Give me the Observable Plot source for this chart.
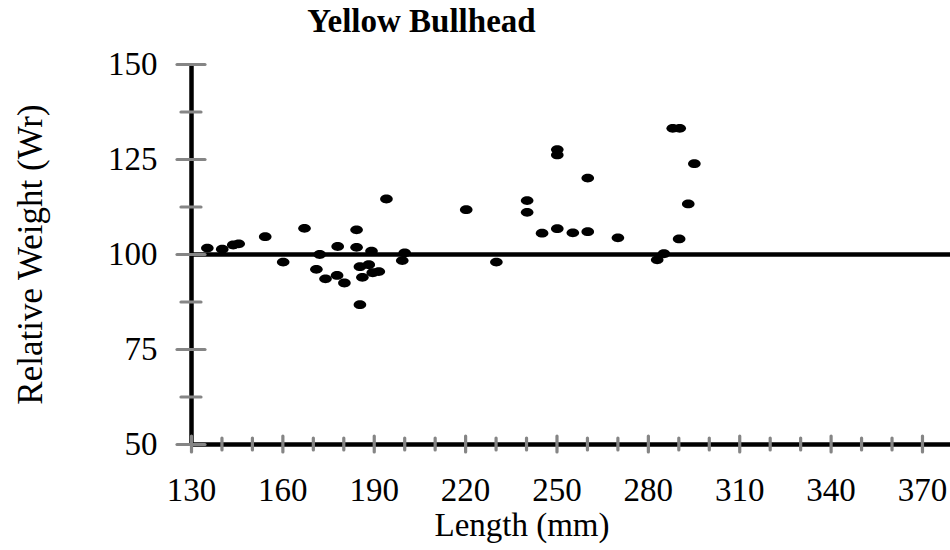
<!DOCTYPE html>
<html>
<head>
<meta charset="utf-8">
<script src="https://cdn.jsdelivr.net/npm/d3@7"></script>
<script src="https://cdn.jsdelivr.net/npm/@observablehq/plot@0.6"></script>
<style>
  html, body { margin: 0; padding: 0; background: #fff; }
  #title { width: 843px; height: 42px; line-height: 42px; text-align: center;
           font-family: "Liberation Serif", "Times New Roman", serif; font-weight: bold; font-size: 33px; color: #000; }
</style>
</head>
<body>
<div id="title">Yellow Bullhead</div>
<div id="chart"></div>
<script>
// Data
const lengths = [135.2,140.1,143.7,145.5,154.2,160.1,167.1,172.1,171.0,178.0,174.0,177.8,180.2,184.2,184.2,189.1,185.3,188.2,186.1,189.5,191.5,185.3,194.0,200.0,199.2,220.2,230.1,240.2,240.2,245.1,250.1,255.2,250.1,250.1,260.1,260.1,270.0,282.9,285.1,288.0,290.3,290.1,293.1,295.1];
const weights = [101.7,101.4,102.5,102.8,104.7,98.0,106.9,100.0,96.1,102.1,93.6,94.5,92.5,106.5,101.9,100.9,96.8,97.3,94.0,95.2,95.5,86.8,114.6,100.4,98.4,111.8,98.0,114.2,111.1,105.6,106.8,105.7,127.6,126.2,120.1,106.0,104.4,98.6,100.2,133.2,133.2,104.1,113.3,123.9];
const xMajorTicks = [130,160,190,220,250,280,310,340,370];
const xMinorTicks = [140,150,170,180,200,210,230,240,260,270,290,300,320,330,350,360];
const yMajorTicks = [50,75,100,125,150];
const yMinorTicks = [62.5,87.5,112.5,137.5];
const xDomain = [130, 379.2];
const yDomain = [50, 150];
const referenceLine = [100];
const xLabel = "Length (mm)";
const yLabel = "Relative Weight (Wr)";

const fish = lengths.map((x, i) => ({length: x, wr: weights[i]}));

const ellipse = {
  draw(ctx) {
    const rx = 6.3, ry = 4.4, k = 0.5523;
    ctx.moveTo(rx, 0);
    ctx.bezierCurveTo(rx, ry * k, rx * k, ry, 0, ry);
    ctx.bezierCurveTo(-rx * k, ry, -rx, ry * k, -rx, 0);
    ctx.bezierCurveTo(-rx, -ry * k, -rx * k, -ry, 0, -ry);
    ctx.bezierCurveTo(rx * k, -ry, rx, -ry * k, rx, 0);
    ctx.closePath();
  }
};

const grey = "#858585";
const chart = Plot.plot({
  width: 950,
  height: 508,
  marginLeft: 191,
  marginRight: 0,
  marginTop: 22,
  marginBottom: 106,
  style: {fontFamily: "'Liberation Serif', 'Times New Roman', serif", fontSize: "33px", color: "#000", background: "#fff", overflow: "visible"},
  x: {domain: xDomain, ticks: xMajorTicks, tickSize: 0, tickPadding: 33, label: null, tickFormat: d => String(d)},
  y: {domain: yDomain, ticks: yMajorTicks, tickSize: 0, tickPadding: 34, label: null, tickFormat: d => String(d)},
  marks: [
    Plot.ruleY(referenceLine, {stroke: "#000", strokeWidth: 4.5}),
    Plot.ruleY([yDomain[0]], {stroke: "#000", strokeWidth: 4.5}),
    Plot.ruleX([xDomain[0]], {y1: yDomain[0], y2: yDomain[1], stroke: "#000", strokeWidth: 4.5}),
    Plot.ruleX(xMinorTicks, {x: d => d, y1: yDomain[0], y2: yDomain[0], insetTop: -6, insetBottom: -6, stroke: grey, strokeWidth: 3.2, strokeLinecap: "round"}),
    Plot.ruleX(xMajorTicks, {x: d => d, y1: yDomain[0], y2: yDomain[0], insetTop: -8, insetBottom: -8, stroke: grey, strokeWidth: 3.2, strokeLinecap: "round"}),
    Plot.ruleY(yMinorTicks, {y: d => d, x1: xDomain[0], x2: xDomain[0], insetLeft: -10, insetRight: -10, stroke: grey, strokeWidth: 3.2, strokeLinecap: "round"}),
    Plot.ruleY(yMajorTicks, {y: d => d, x1: xDomain[0], x2: xDomain[0], insetLeft: -14, insetRight: -14, stroke: grey, strokeWidth: 3.2, strokeLinecap: "round"}),
    Plot.dot(fish, {x: "length", y: "wr", symbol: ellipse, fill: "#000", stroke: "none"}),
    Plot.text([xLabel], {frameAnchor: "bottom", lineAnchor: "bottom", textAnchor: "middle", dx: -49, dy: 91, fontSize: 33, fill: "#000"}),
    Plot.text([yLabel], {frameAnchor: "left", textAnchor: "middle", lineAnchor: "middle", rotate: -90, dx: -161, fontSize: 35, fill: "#000"})
  ]
});
document.getElementById("chart").appendChild(chart);
</script>
</body>
</html>
